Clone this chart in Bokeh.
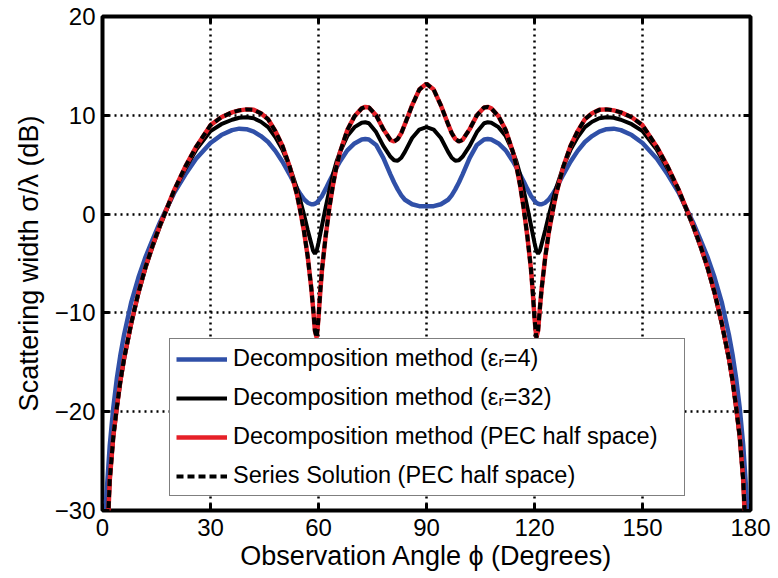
from bokeh.plotting import figure
from bokeh.models import FixedTicker, Legend, LegendItem, LinearAxis, Range1d
from bokeh.embed import file_html
from bokeh.resources import INLINE

# Observation angle (degrees)
angle_deg = [0.5, 1, 2, 3, 4, 5, 6, 8, 10, 12, 14, 16, 18, 20, 23, 26, 30, 33, 36, 38,
             40, 42, 44, 46, 48, 50, 52, 54, 55, 56, 57, 58, 58.5, 59, 59.5, 60, 60.5,
             61, 62, 63, 64, 65, 66, 68, 70, 72, 73, 74, 76, 78, 80, 81, 82, 83, 84,
             86, 88, 90,
             92, 94, 96, 97, 98, 99, 100, 102, 104, 106, 107, 108, 110, 112, 114, 115,
             116, 117, 118, 119, 119.5, 120, 120.5, 121, 121.5, 122, 123, 124, 125,
             126, 128, 130, 132, 134, 136, 138, 140, 142, 144, 147, 150, 154, 157, 160,
             162, 164, 166, 168, 170, 172, 174, 175, 176, 177, 178, 179, 179.5]

# Decomposition method, eps_r = 4 (dB)
eps4_db = [-34, -29, -23.5, -19.6, -16.6, -14.2, -12.2, -8.9, -6.4, -4.3, -2.5, -0.8, 0.7, 2.2,
           4.0, 5.6, 7.2, 8.0, 8.5, 8.65, 8.6, 8.35, 7.9, 7.3, 6.4, 5.3, 4.0, 2.6, 2.0, 1.5,
           1.15, 1.0, 1.0, 1.05, 1.15, 1.35, 1.6, 1.85, 2.55, 3.3, 4.0, 4.7, 5.35, 6.45, 7.15,
           7.55, 7.6, 7.55, 7.0, 5.7, 4.0, 3.2, 2.5, 1.9, 1.45, 1.0, 0.8, 0.8,
           0.8, 1.0, 1.45, 1.9, 2.5, 3.2, 4.0, 5.7, 7.0, 7.55, 7.6, 7.55, 7.15, 6.45, 5.35,
           4.7, 4.0, 3.3, 2.55, 1.85, 1.6, 1.35, 1.15, 1.05, 1.0, 1.0, 1.15, 1.5, 2.0, 2.6,
           4.0, 5.3, 6.4, 7.3, 7.9, 8.35, 8.6, 8.65, 8.5, 8.0, 7.2, 5.6, 4.0, 2.2, 0.7, -0.8,
           -2.5, -4.3, -6.4, -8.9, -12.2, -14.2, -16.6, -19.6, -23.5, -29, -34]

# Decomposition method, eps_r = 32 (dB)
eps32_db = [-42, -35, -27, -22.6, -19.6, -16.9, -14.7, -11.1, -8.0, -5.4, -3.2, -1.2, 0.6, 2.4,
            4.6, 6.5, 8.4, 9.1, 9.55, 9.75, 9.8, 9.7, 9.35, 8.8, 7.8, 6.5, 4.8, 2.6, 1.3, -0.1,
            -1.6, -3.0, -3.7, -4.0, -3.7, -2.9, -2.0, -1.1, 0.7, 2.4, 4.0, 5.3, 6.3, 7.9, 8.8,
            9.25, 9.3, 9.2, 8.3, 6.9, 5.8, 5.45, 5.4, 5.7, 6.3, 7.7, 8.55, 8.8,
            8.55, 7.7, 6.3, 5.7, 5.4, 5.45, 5.8, 6.9, 8.3, 9.2, 9.3, 9.25, 8.8, 7.9, 6.3, 5.3,
            4.0, 2.4, 0.7, -1.1, -2.0, -2.9, -3.7, -4.0, -3.7, -3.0, -1.6, -0.1, 1.3, 2.6,
            4.8, 6.5, 7.8, 8.8, 9.35, 9.7, 9.8, 9.75, 9.55, 9.1, 8.4, 6.5, 4.6, 2.4, 0.6, -1.2,
            -3.2, -5.4, -8.0, -11.1, -14.7, -16.9, -19.6, -22.6, -27, -35, -42]

# Decomposition method, PEC half space (dB)
pec_db = [-42, -36, -27, -22.5, -19.5, -16.8, -14.6, -11.0, -7.9, -5.3, -3.1, -1.1, 0.7, 2.5,
          4.8, 6.8, 9.0, 9.8, 10.3, 10.5, 10.6, 10.55, 10.2, 9.6, 8.4, 6.9, 4.8, 2.0, 0.2, -1.8,
          -4.3, -7.5, -9.5, -11.8, -12.5, -10.5, -7.8, -5.5, -2.2, 0.6, 2.9, 4.8, 6.3, 8.5, 9.9,
          10.7, 10.85, 10.8, 10.0, 8.6, 7.5, 7.35, 7.6, 8.2, 9.1, 11.0, 12.6, 13.2,
          12.6, 11.0, 9.1, 8.2, 7.6, 7.35, 7.5, 8.6, 10.0, 10.8, 10.85, 10.7, 9.9, 8.5, 6.3,
          4.8, 2.9, 0.6, -2.2, -5.5, -7.8, -10.5, -12.5, -11.8, -9.5, -7.5, -4.3, -1.8, 0.2,
          2.0, 4.8, 6.9, 8.4, 9.6, 10.2, 10.55, 10.6, 10.5, 10.3, 9.8, 9.0, 6.8, 4.8, 2.5, 0.7,
          -1.1, -3.1, -5.3, -7.9, -11.0, -14.6, -16.8, -19.5, -22.5, -27, -36, -42]

# Series solution, PEC half space (dB) - coincides with the PEC curve
series_db = list(pec_db)

x_ticks = [0, 30, 60, 90, 120, 150, 180]
y_ticks = [-30, -20, -10, 0, 10, 20]
y_tick_labels = {-30: "\u221230", -20: "\u221220", -10: "\u221210", 0: "0", 10: "10", 20: "20"}

FONT = "Liberation Sans"

p = figure(width=778, height=578, output_backend="svg", toolbar_location=None,
           x_range=Range1d(0, 180), y_range=Range1d(-30, 20),
           min_border_left=102, min_border_right=28, min_border_top=16, min_border_bottom=68)
p.background_fill_color = "white"
p.border_fill_color = "white"
p.outline_line_color = "black"
p.outline_line_width = 4

for ax in (p.xaxis[0], p.yaxis[0]):
    ax.major_label_text_font = FONT
    ax.major_label_text_font_size = "24px"
    ax.major_label_text_color = "black"
    ax.axis_label_text_font = FONT
    ax.axis_label_text_font_size = "27px"
    ax.axis_label_text_font_style = "normal"
    ax.axis_label_text_color = "black"
    ax.axis_line_color = None
    ax.major_tick_in = 7
    ax.major_tick_out = 0
    ax.major_tick_line_width = 3
    ax.major_tick_line_color = "black"
    ax.minor_tick_line_color = None

p.xaxis[0].ticker = FixedTicker(ticks=x_ticks)
p.yaxis[0].ticker = FixedTicker(ticks=y_ticks)
p.yaxis[0].major_label_overrides = y_tick_labels
p.xaxis[0].axis_label = "Observation Angle \u03d5 (Degrees)"
p.yaxis[0].axis_label = "Scattering width \u03c3/\u03bb (dB)"
p.xaxis[0].major_label_standoff = 8
p.yaxis[0].major_label_standoff = 7
p.xaxis[0].axis_label_standoff = 2
p.yaxis[0].axis_label_standoff = 8

# tick marks on the top and right edges of the box (no labels)
for loc, tk in (("right", y_ticks), ("above", x_ticks)):
    ax2 = LinearAxis(ticker=FixedTicker(ticks=tk), major_label_text_color=None,
                     major_label_text_font_size="1px", major_label_standoff=0,
                     axis_line_color=None, major_tick_in=7, major_tick_out=0,
                     major_tick_line_width=3, minor_tick_line_color=None)
    p.add_layout(ax2, loc)

p.xgrid.ticker = FixedTicker(ticks=x_ticks)
p.ygrid.ticker = FixedTicker(ticks=y_ticks)
for g in (p.xgrid, p.ygrid):
    g.grid_line_color = "black"
    g.grid_line_width = 2.5
    g.grid_line_dash = "2 4"
    g.grid_line_alpha = 1.0

r_blue = p.line(angle_deg, eps4_db, line_color="#3050a8", line_width=4.5)
r_black = p.line(angle_deg, eps32_db, line_color="black", line_width=4)
r_red = p.line(angle_deg, pec_db, line_color="#e62028", line_width=4.5)
r_ser = p.line(angle_deg, series_db, line_color="black", line_width=4, line_dash="7 4")

legend = Legend(items=[
    LegendItem(label="Decomposition method (\u03b5\u1d63=4)", renderers=[r_blue]),
    LegendItem(label="Decomposition method (\u03b5\u1d63=32)", renderers=[r_black]),
    LegendItem(label="Decomposition method (PEC half space)", renderers=[r_red]),
    LegendItem(label="Series Solution (PEC half space)", renderers=[r_ser]),
], location=(67, 14))
legend.label_text_font = FONT
legend.label_text_font_size = "23.5px"
legend.label_text_color = "black"
legend.glyph_width = 51
legend.glyph_height = 26
legend.label_height = 26
legend.label_width = 445
legend.label_standoff = 6
legend.spacing = 12
legend.padding = 6
legend.margin = 0
legend.border_line_color = "black"
legend.border_line_width = 1
legend.background_fill_color = "white"
legend.background_fill_alpha = 1.0
p.add_layout(legend)

open("out.html", "w").write(file_html(p, INLINE))
